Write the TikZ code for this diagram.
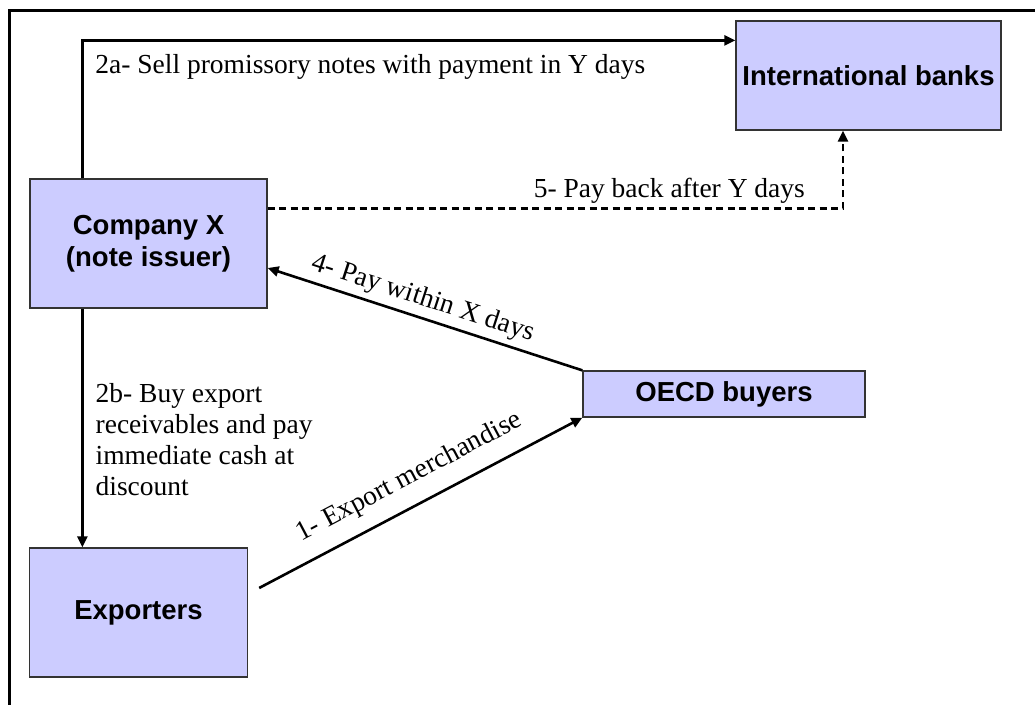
\documentclass[tikz,border=0pt]{standalone}
\usepackage{fontspec}
\setmainfont{Liberation Serif}
\newfontfamily\boxfont{Liberation Sans}
\usetikzlibrary{arrows.meta,calc}
\definecolor{boxfill}{HTML}{CCCCFF}
\definecolor{boxline}{HTML}{333333}
\begin{document}
\begin{tikzpicture}[x=1pt,y=-1pt,
  box/.style={draw=boxline,line width=1.3pt,fill=boxfill,inner sep=0pt,align=center,
    font=\boxfont\bfseries\fontsize{27.5}{32}\selectfont},
  arr/.style={line width=2.6pt,-{Triangle[length=11pt,width=10pt]}},
  dasharr/.style={arr,dash pattern=on 7pt off 4.5pt},
  lbl/.style={font=\fontsize{27.5}{31}\selectfont,inner sep=0pt},
]
\useasboundingbox (0,0) rectangle (1035,704);
\draw[line width=2.4pt] (9.5,710) -- (9.5,10.5) -- (1040,10.5);

\node[box,minimum width=265pt,minimum height=109pt] (ib) at (868.5,75.5) {International banks};
\node[box,minimum width=237pt,minimum height=129pt] (cx) at (148.5,243.5) {Company X\\(note issuer)};
\node[box,minimum width=282pt,minimum height=46pt] (oecd) at (724,394) {OECD buyers};
\node[box,minimum width=218pt,minimum height=129pt] (exp) at (138.5,612.5) {Exporters};

\coordinate (a2top) at ([xshift=53pt]cx.north west);
\coordinate (a2bot) at ([xshift=53pt]cx.south west);
\coordinate (a2in) at ([yshift=-20pt]ib.north west);
\coordinate (e1) at ([xshift=11pt,yshift=24.5pt]exp.east);

\draw[arr] (a2top) |- node[lbl,pos=0.509,anchor=base west,yshift=-33pt]{2a- Sell promissory notes with payment in Y days} (a2in);

\draw[arr] (a2bot) -- node[lbl,pos=0.547,anchor=west,xshift=12pt,align=left]{2b- Buy export\\receivables and pay\\immediate cash at\\discount} (a2bot |- exp.north);

\draw[dasharr] ([yshift=35pt]cx.east) -| node[lbl,pos=0.468,anchor=base east,yshift=11pt]{5- Pay back after Y days} ([xshift=-25.5pt]ib.south);

\draw[arr] (oecd.north west) -- node[lbl,sloped,above=5pt,pos=0.524]{4- Pay within X days} ([yshift=-24.5pt]cx.east);

\draw[arr] (e1) -- node[lbl,sloped,above=14pt,pos=0.505]{1- Export merchandise} (oecd.south west);
\end{tikzpicture}
\end{document}
